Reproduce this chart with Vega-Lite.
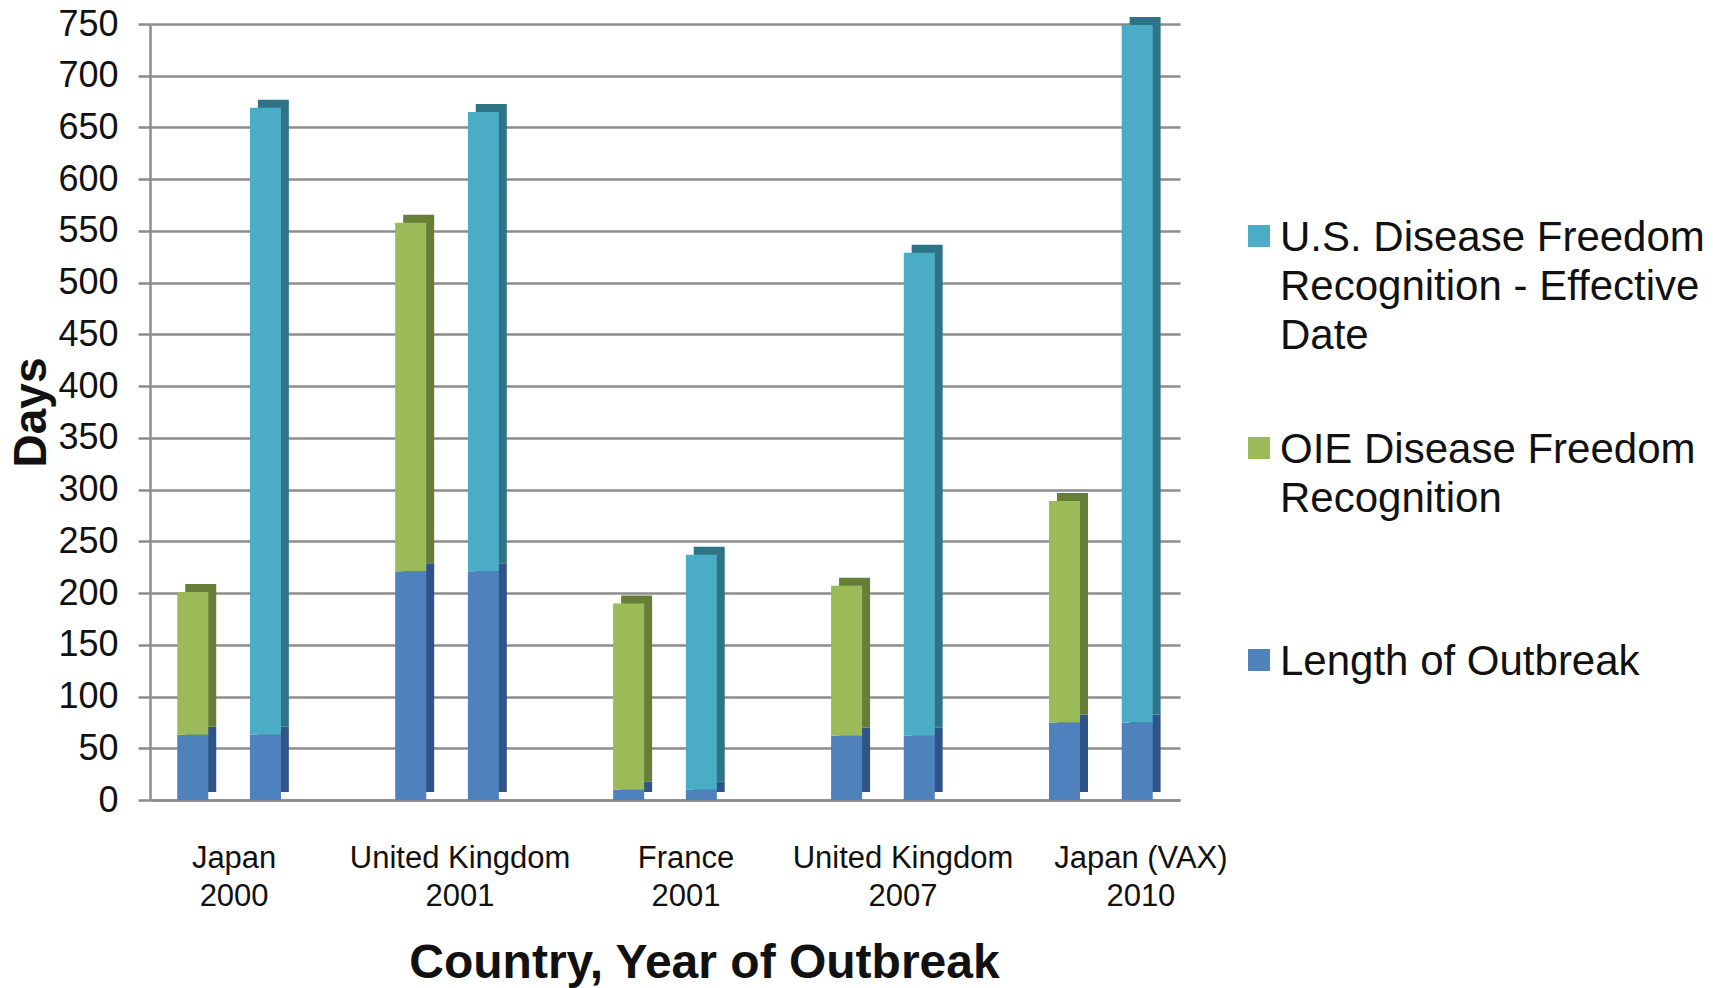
{
  "$schema": "https://vega.github.io/schema/vega-lite/v6.json",
  "width": 1030,
  "height": 776,
  "autosize": "none",
  "padding": {"left": 150, "top": 24, "right": 545, "bottom": 188},
  "background": "white",
  "config": {"view": {"stroke": null}, "font": "Liberation Sans"},
  "data": {
    "values": [
      {"outbreak": "Japan 2000", "bar": "OIE", "series": "Length of Outbreak", "layer": 1, "days": 63},
      {"outbreak": "Japan 2000", "bar": "OIE", "series": "OIE Disease Freedom Recognition", "layer": 2, "days": 138},
      {"outbreak": "Japan 2000", "bar": "US", "series": "Length of Outbreak", "layer": 1, "days": 63},
      {"outbreak": "Japan 2000", "bar": "US", "series": "U.S. Disease Freedom Recognition - Effective Date", "layer": 2, "days": 606},
      {"outbreak": "United Kingdom 2001", "bar": "OIE", "series": "Length of Outbreak", "layer": 1, "days": 221},
      {"outbreak": "United Kingdom 2001", "bar": "OIE", "series": "OIE Disease Freedom Recognition", "layer": 2, "days": 337},
      {"outbreak": "United Kingdom 2001", "bar": "US", "series": "Length of Outbreak", "layer": 1, "days": 221},
      {"outbreak": "United Kingdom 2001", "bar": "US", "series": "U.S. Disease Freedom Recognition - Effective Date", "layer": 2, "days": 444},
      {"outbreak": "France 2001", "bar": "OIE", "series": "Length of Outbreak", "layer": 1, "days": 10},
      {"outbreak": "France 2001", "bar": "OIE", "series": "OIE Disease Freedom Recognition", "layer": 2, "days": 180},
      {"outbreak": "France 2001", "bar": "US", "series": "Length of Outbreak", "layer": 1, "days": 10},
      {"outbreak": "France 2001", "bar": "US", "series": "U.S. Disease Freedom Recognition - Effective Date", "layer": 2, "days": 227},
      {"outbreak": "United Kingdom 2007", "bar": "OIE", "series": "Length of Outbreak", "layer": 1, "days": 62},
      {"outbreak": "United Kingdom 2007", "bar": "OIE", "series": "OIE Disease Freedom Recognition", "layer": 2, "days": 145},
      {"outbreak": "United Kingdom 2007", "bar": "US", "series": "Length of Outbreak", "layer": 1, "days": 62},
      {"outbreak": "United Kingdom 2007", "bar": "US", "series": "U.S. Disease Freedom Recognition - Effective Date", "layer": 2, "days": 467},
      {"outbreak": "Japan (VAX) 2010", "bar": "OIE", "series": "Length of Outbreak", "layer": 1, "days": 75},
      {"outbreak": "Japan (VAX) 2010", "bar": "OIE", "series": "OIE Disease Freedom Recognition", "layer": 2, "days": 214},
      {"outbreak": "Japan (VAX) 2010", "bar": "US", "series": "Length of Outbreak", "layer": 1, "days": 75},
      {"outbreak": "Japan (VAX) 2010", "bar": "US", "series": "U.S. Disease Freedom Recognition - Effective Date", "layer": 2, "days": 674}
    ]
  },
  "encoding": {
    "x": {
      "field": "outbreak",
      "type": "nominal",
      "sort": null,
      "title": "Country, Year of Outbreak",
      "scale": {"paddingInner": 0.524, "paddingOuter": 0.125},
      "axis": {
        "labelAngle": 0,
        "labelExpr": "[slice(datum.label, 0, lastindexof(datum.label, ' ')), slice(datum.label, lastindexof(datum.label, ' ') + 1)]",
        "labelFontSize": 31,
        "labelLineHeight": 38,
        "labelLimit": 500,
        "labelColor": "#111111",
        "labelPadding": 43,
        "labelOffset": {
          "condition": [
            {"test": "datum.value == 'Japan 2000'", "value": 5},
            {"test": "datum.value == 'United Kingdom 2001'", "value": 13},
            {"test": "datum.value == 'France 2001'", "value": 21},
            {"test": "datum.value == 'United Kingdom 2007'", "value": 20}
          ],
          "value": 40
        },
        "ticks": false,
        "domainColor": "#8c8c8c",
        "domainWidth": 2.5,
        "titleFontSize": 48,
        "titleFontWeight": "bold",
        "titleColor": "#111111",
        "titlePadding": 28,
        "titleX": 554,
        "titleAlign": "center"
      }
    },
    "y": {
      "field": "days",
      "type": "quantitative",
      "stack": "zero",
      "title": "Days",
      "scale": {"domain": [0, 750], "nice": false},
      "axis": {
        "values": [0, 50, 100, 150, 200, 250, 300, 350, 400, 450, 500, 550, 600, 650, 700, 750],
        "gridColor": "#8c8c8c",
        "gridWidth": 2.5,
        "domainColor": "#8c8c8c",
        "domainWidth": 2.5,
        "tickColor": "#8c8c8c",
        "tickWidth": 2.5,
        "tickSize": 12,
        "labelFontSize": 36,
        "labelColor": "#111111",
        "labelPadding": 20,
        "titleFontSize": 46,
        "titleFontWeight": "bold",
        "titleColor": "#111111",
        "titlePadding": 2
      }
    },
    "order": {"field": "layer", "type": "quantitative"}
  },
  "layer": [
    {
      "mark": {"type": "bar", "yOffset": -8},
      "encoding": {
        "xOffset": {
          "field": "bar",
          "type": "nominal",
          "sort": ["OIE", "US"],
          "scale": {"range": [8, 111.6], "paddingInner": 0.573, "paddingOuter": 0}
        },
        "color": {
          "field": "series",
          "type": "nominal",
          "scale": {
            "domain": ["U.S. Disease Freedom Recognition - Effective Date", "OIE Disease Freedom Recognition", "Length of Outbreak"],
            "range": ["#2F7386", "#677E38", "#2F5588"]
          },
          "legend": null
        }
      }
    },
    {
      "mark": {"type": "bar"},
      "encoding": {
        "xOffset": {
          "field": "bar",
          "type": "nominal",
          "sort": ["OIE", "US"],
          "scale": {"paddingInner": 0.573, "paddingOuter": 0}
        },
        "color": {
          "field": "series",
          "type": "nominal",
          "scale": {
            "domain": ["U.S. Disease Freedom Recognition - Effective Date", "OIE Disease Freedom Recognition", "Length of Outbreak"],
            "range": ["#4BACC6", "#9BBB59", "#4F81BD"]
          },
          "legend": {
            "title": null,
            "orient": "none",
            "legendX": 1088,
            "legendY": 191,
            "symbolType": "square",
            "symbolSize": 484,
            "symbolStrokeWidth": 0,
            "labelFontSize": 42,
            "labelColor": "#111111",
            "labelLimit": 600,
            "labelOffset": 0,
            "labelBaseline": "top",
            "rowPadding": 70,
            "encoding": {"labels": {"lineHeight": {"value": 49}, "dy": {"value": -18}}},
            "labelExpr": "datum.label == 'U.S. Disease Freedom Recognition - Effective Date' ? ['U.S. Disease Freedom', 'Recognition - Effective', 'Date'] : datum.label == 'OIE Disease Freedom Recognition' ? ['OIE Disease Freedom', 'Recognition', ' '] : datum.label"
          }
        }
      }
    }
  ],
  "resolve": {"scale": {"color": "independent", "xOffset": "independent"}}
}
